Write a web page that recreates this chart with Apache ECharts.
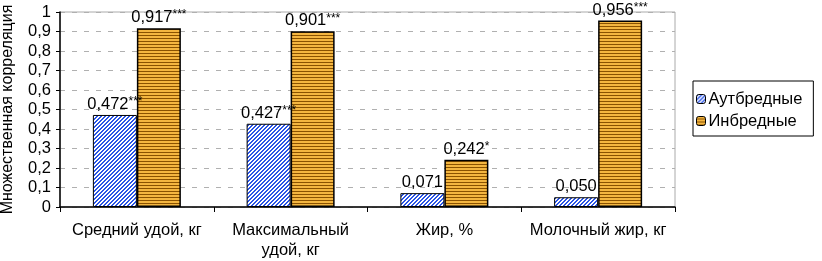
<!DOCTYPE html>
<html><head><meta charset="utf-8">
<script src="https://cdn.jsdelivr.net/npm/echarts@6/dist/echarts.min.js"></script>
<style>html,body{margin:0;padding:0;background:#fff}#c{width:822px;height:261px}</style>
</head><body><div id="c"></div>
<script>
const categories = ['Средний удой, кг', 'Максимальный\nудой, кг', 'Жир, %', 'Молочный жир, кг'];
const seriesNames = ['Аутбредные', 'Инбредные'];
const outbred = [0.472, 0.427, 0.071, 0.050];
const inbred = [0.917, 0.901, 0.242, 0.956];
const outbredSig = ['***', '***', '', ''];
const inbredSig = ['***', '***', '*', '***'];
const yTicks = [0, 0.1, 0.2, 0.3, 0.4, 0.5, 0.6, 0.7, 0.8, 0.9, 1];

function hatchBlue() {
  const n = 4;
  const c = document.createElement('canvas'); c.width = n; c.height = n;
  const g = c.getContext('2d');
  g.fillStyle = '#ffffff'; g.fillRect(0, 0, n, n);
  g.fillStyle = '#2a55e6';
  for (let y = 0; y < n; y++) for (let x = 0; x < n; x++) {
    if ((x + y) % n < 2) g.fillRect(x, y, 1, 1);
  }
  return c;
}
function stripeOrange() {
  const c = document.createElement('canvas'); c.width = 4; c.height = 3;
  const g = c.getContext('2d');
  g.fillStyle = '#f4b640'; g.fillRect(0, 0, 4, 3);
  g.fillStyle = '#8a5200'; g.fillRect(0, 2, 4, 1);
  return c;
}
const pBlue = { image: hatchBlue(), repeat: 'repeat' };
const pOrange = { image: stripeOrange(), repeat: 'repeat' };

function fmt(v) { return v.toFixed(3).replace('.', ','); }
const font = 'Liberation Sans, Arial, sans-serif';
const fs = 16.5;

const chart = echarts.init(document.getElementById('c'), null, { renderer: 'canvas' });
function mkLabel(sig) {
  return {
    show: true, position: 'top', distance: 2, color: '#000', fontFamily: font, fontSize: fs,
    formatter: p => '{v|' + fmt(p.value) + '}' + (sig[p.dataIndex] ? '{s|' + sig[p.dataIndex] + '}' : ''),
    rich: { v: { fontSize: fs, fontFamily: font, color: '#000' }, s: { fontSize: 12, fontFamily: font, color: '#000', verticalAlign: 'top', padding: [0, 0, 5, 0] } }
  };
}
chart.setOption({
  animation: false,
  textStyle: { fontFamily: font },
  grid: { left: 60, right: 147, top: 12, bottom: 54, show: true, borderColor: '#aaaaaa', borderWidth: 1,
          containLabel: false, outerBoundsMode: 'none' },
  legend: {
    orient: 'vertical', left: 693, top: 81, itemWidth: 9, itemHeight: 9, itemGap: 4,
    padding: [9, 11, 6, 3], borderColor: '#000', borderWidth: 1, backgroundColor: '#fff',
    textStyle: { fontSize: fs, fontFamily: font, color: '#000', lineHeight: 18, padding: [0, 0, 0, -2] },
    data: seriesNames.map(n => ({ name: n, itemStyle: { borderColor: '#000', borderWidth: 1 } }))
  },
  xAxis: {
    type: 'category', data: categories,
    axisLine: { lineStyle: { color: '#000', width: 1.5 } },
    axisTick: { show: true, length: 5, lineStyle: { color: '#000' } },
    axisLabel: { color: '#000', fontSize: fs, fontFamily: font, margin: 13, lineHeight: 20, interval: 0 }
  },
  yAxis: {
    type: 'value', min: 0, max: 1, interval: 0.1,
    name: 'Множественная корреляция', nameLocation: 'middle', nameGap: 44,
    nameTextStyle: { fontSize: 16, fontFamily: font, color: '#000' },
    axisLine: { show: true, lineStyle: { color: '#000', width: 1.5 } },
    axisTick: { show: true, length: 4, inside: false, lineStyle: { color: '#000' } },
    axisLabel: { color: '#000', fontSize: fs, fontFamily: font, margin: 9,
      formatter: v => (Math.round(v * 10) / 10).toString().replace('.', ',') },
    splitLine: { show: true, lineStyle: { color: '#b0b0b0', type: [5, 7], width: 1 } }
  },
  series: [
    { name: seriesNames[0], type: 'bar', data: outbred, barWidth: 44, barGap: '0%',
      itemStyle: { color: pBlue, borderColor: '#000', borderWidth: 1 }, label: mkLabel(outbredSig) },
    { name: seriesNames[1], type: 'bar', data: inbred, barWidth: 44, barGap: '0%',
      itemStyle: { color: pOrange, borderColor: '#000', borderWidth: 1.5 }, label: mkLabel(inbredSig) }
  ]
});
</script></body></html>
